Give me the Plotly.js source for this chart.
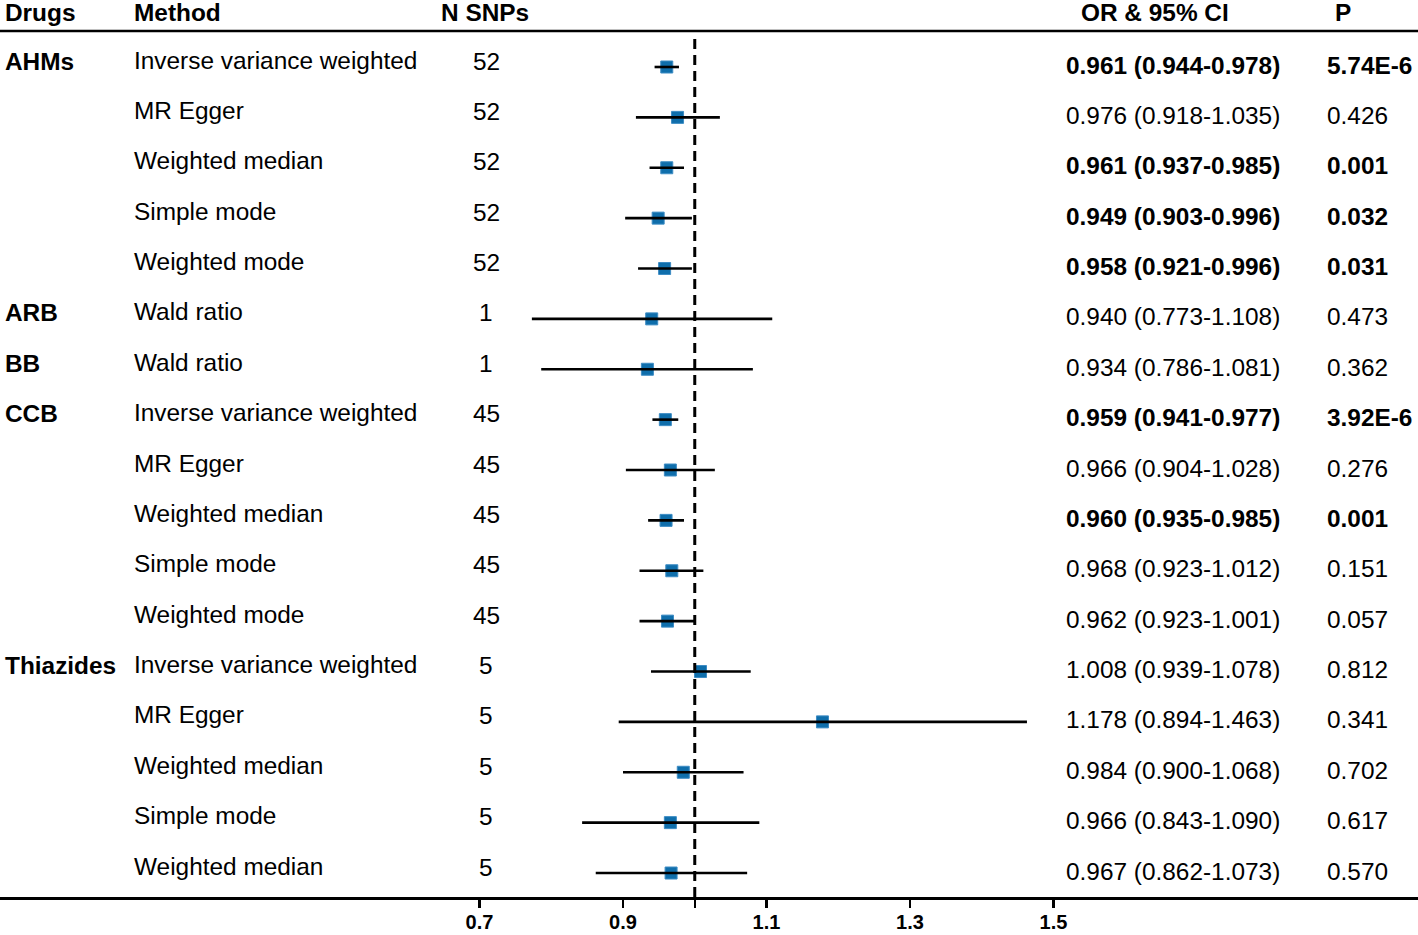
<!DOCTYPE html>
<html>
<head>
<meta charset="utf-8">
<script src="https://cdn.plot.ly/plotly-3.0.1.min.js"></script>
<style>
html,body{margin:0;padding:0;background:#fff;}
#chart{width:1418px;height:935px;}
</style>
</head>
<body>
<div id="chart"></div>
<script>
// ---- data ----
var drugs = ['AHMs','','','','','ARB','BB','CCB','','','','','Thiazides','','','',''];
var methods = ['Inverse variance weighted','MR Egger','Weighted median','Simple mode','Weighted mode',
  'Wald ratio','Wald ratio',
  'Inverse variance weighted','MR Egger','Weighted median','Simple mode','Weighted mode',
  'Inverse variance weighted','MR Egger','Weighted median','Simple mode','Weighted median'];
var nSnps = [52,52,52,52,52,1,1,45,45,45,45,45,5,5,5,5,5];
var orVals = [0.961,0.976,0.961,0.949,0.958,0.940,0.934,0.959,0.966,0.960,0.968,0.962,1.008,1.178,0.984,0.966,0.967];
var ciLow  = [0.944,0.918,0.937,0.903,0.921,0.773,0.786,0.941,0.904,0.935,0.923,0.923,0.939,0.894,0.900,0.843,0.862];
var ciHigh = [0.978,1.035,0.985,0.996,0.996,1.108,1.081,0.977,1.028,0.985,1.012,1.001,1.078,1.463,1.068,1.090,1.073];
var pVals = ['5.74E-6','0.426','0.001','0.032','0.031','0.473','0.362','3.92E-6','0.276','0.001','0.151','0.057','0.812','0.341','0.702','0.617','0.570'];
var boldRows = [true,false,true,true,true,false,false,true,false,true,false,false,false,false,false,false,false];
var headers = ['Drugs','Method','N SNPs','OR & 95% CI','P'];
var tickVals = [0.7,0.9,1.0,1.1,1.3,1.5];
var tickText = ['<b>0.7</b>','<b>0.9</b>','','<b>1.1</b>','<b>1.3</b>','<b>1.5</b>'];

// ---- build ----
var W = 1418;
var rows = orVals.map(function(_, i){ return i; });
var FONT = 'Liberation Sans, Arial, sans-serif';
var FS = 24.4;

var markerTrace = {
  type:'scatter', mode:'markers', x: orVals, y: rows,
  marker:{symbol:'square', size:12, color:'#0f6eab', line:{color:'#3d8cc4', width:1}},
  hoverinfo:'skip', showlegend:false, cliponaxis:false
};
var ciTrace = {
  type:'scatter', mode:'markers', x: orVals, y: rows,
  marker:{size:1, opacity:0},
  error_x:{type:'data', symmetric:false,
    array: orVals.map(function(v,i){ return ciHigh[i]-v; }),
    arrayminus: orVals.map(function(v,i){ return v-ciLow[i]; }),
    color:'#000', thickness:2.6, width:0},
  hoverinfo:'skip', showlegend:false, cliponaxis:false
};

var ann = [];
function px(p){ return p/W; }
function addText(txt, xp, anchor, row, shift, bold){
  ann.push({text: bold ? '<b>'+txt+'</b>' : txt, x: px(xp), xref:'paper', y: row, yref:'y',
    xanchor: anchor, yanchor:'middle', yshift: shift, showarrow:false,
    font:{family:FONT, size:FS, color:'#000'}});
}
// headers
var hdrX = [3, 132, 485, 1155, 1343];
var hdrAnchor = ['left','left','center','center','center'];
headers.forEach(function(h, k){
  ann.push({text:'<b>'+h+'</b>', x: px(hdrX[k]), xref:'paper', y:1, yref:'paper',
    xanchor: hdrAnchor[k], yanchor:'middle', yshift: 19, showarrow:false,
    font:{family:FONT, size:FS, color:'#000'}});
});
rows.forEach(function(i){
  if (drugs[i]) addText(drugs[i], 3, 'left', i, 6, true);
  addText(methods[i], 132, 'left', i, 7, false);
  addText(String(nSnps[i]), 486, 'center', i, 6, false);
  var ciStr = orVals[i].toFixed(3)+' ('+ciLow[i].toFixed(3)+'-'+ciHigh[i].toFixed(3)+')';
  addText(ciStr, 1064, 'left', i, 2, boldRows[i]);
  addText(pVals[i], 1325, 'left', i, 2, boldRows[i]);
});

var layout = {
  width: 1418, height: 935,
  margin:{l:0, r:0, t:31, b:38, pad:0},
  paper_bgcolor:'#fff', plot_bgcolor:'#fff',
  showlegend:false,
  xaxis:{range:[0.0317, 2.008], showgrid:false, zeroline:false,
    showline:true, linecolor:'#000', linewidth:2.6,
    ticks:'outside', ticklen:8, tickwidth:2.4, tickcolor:'#000',
    tickvals: tickVals, ticktext: tickText, ticklabelstandoff: -3,
    tickfont:{family:FONT, size:20, color:'#000'},
    fixedrange:true},
  yaxis:{range:[16.476, -0.7146], visible:false, showgrid:false, zeroline:false, fixedrange:true},
  shapes:[
    {type:'line', xref:'paper', yref:'paper', x0:0, x1:1, y0:1, y1:1, line:{color:'#000', width:2.6}},
    {type:'line', xref:'x', yref:'paper', x0:1, x1:1, y0:0, y1:0.992, line:{color:'#000', width:3, dash:'10px,6px'}}
  ],
  annotations: ann
};

Plotly.newPlot('chart', [markerTrace, ciTrace], layout, {staticPlot:true, displayModeBar:false});
</script>
</body>
</html>
